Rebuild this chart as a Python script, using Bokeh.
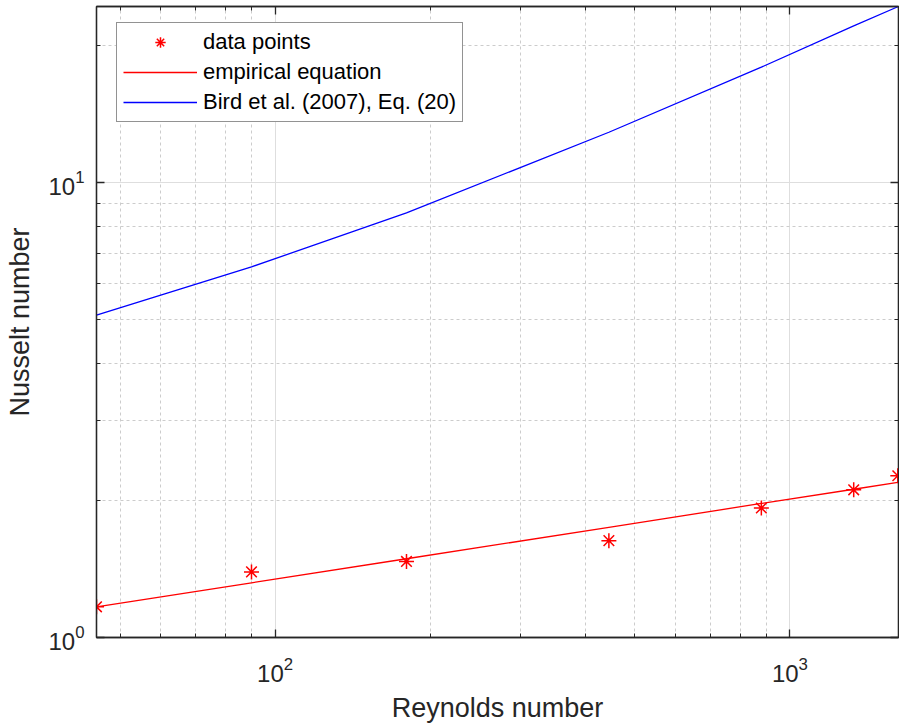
from bokeh.plotting import figure
from bokeh.models import (LogAxis, Legend, LegendItem, Range1d, FixedTicker,
                          LogTickFormatter, CustomJSTickFormatter)
from bokeh.embed import file_html
from bokeh.resources import INLINE

# ---- data ----
re_data = [45, 90, 180, 445, 880, 1330, 1620]
nu_data = [1.168, 1.394, 1.470, 1.633, 1.926, 2.112, 2.268]
nu_empirical = [1.168, 1.319, 1.490, 1.747, 1.971, 2.118, 2.192]
nu_bird = [5.115, 6.53, 8.58, 12.91, 17.95, 22.12, 24.37]

x_major = [100, 1000]
x_minor = [50, 60, 70, 80, 90, 200, 300, 400, 500, 600, 700, 800, 900]
y_major = [1, 10]
y_minor = [2, 3, 4, 5, 6, 7, 8, 9, 20]

x_label = "Reynolds number"
y_label = "Nusselt number"
legend_labels = ["data points", "empirical equation", "Bird et al. (2007), Eq. (20)"]

FONT = "Liberation Sans"
AX = "#262626"

p = figure(width=899, height=725, x_axis_type="log", y_axis_type="log",
           x_range=Range1d(45, 1625), y_range=Range1d(1, 24.4),
           output_backend="svg", toolbar_location=None,
           min_border_left=96, min_border_right=1, min_border_top=6, min_border_bottom=87,
           background_fill_color="white", border_fill_color="white")
p.outline_line_color = AX
p.outline_line_width = 1.3

xt = FixedTicker(ticks=x_major, minor_ticks=x_minor)
yt = FixedTicker(ticks=y_major, minor_ticks=y_minor)

# grids
p.xgrid[0].ticker = xt
p.ygrid[0].ticker = yt
for g in (p.xgrid[0], p.ygrid[0]):
    g.grid_line_color = "#dedede"
    g.grid_line_width = 1
    g.minor_grid_line_color = "#cccccc"
    g.minor_grid_line_dash = "3 3"
    g.minor_grid_line_width = 1

def style_axis(ax, ticker, labels=True):
    ax.ticker = ticker
    ax.axis_line_color = AX
    ax.axis_line_width = 1.3
    ax.major_tick_line_color = AX
    ax.minor_tick_line_color = AX
    ax.major_tick_line_width = 1.3
    ax.minor_tick_line_width = 1
    ax.major_tick_in = 8
    ax.major_tick_out = 0
    ax.minor_tick_in = 4
    ax.minor_tick_out = 0
    if labels:
        ax.formatter = LogTickFormatter()
        ax.major_label_text_font = FONT
        ax.major_label_text_font_size = "24px"
        ax.major_label_text_color = AX
        ax.axis_label_text_font = FONT
        ax.axis_label_text_font_size = "27px"
        ax.axis_label_text_font_style = "normal"
        ax.axis_label_text_color = AX
    else:
        ax.formatter = CustomJSTickFormatter(code="return '';")
        ax.major_label_text_font_size = "1px"
        ax.major_label_standoff = 0
        ax.axis_label_standoff = 0

style_axis(p.xaxis[0], xt)
style_axis(p.yaxis[0], yt)
p.xaxis[0].axis_label = x_label
p.yaxis[0].axis_label = y_label
p.xaxis[0].major_label_standoff = 19
p.xaxis[0].axis_label_standoff = 8
p.yaxis[0].major_label_standoff = 12
p.yaxis[0].axis_label_standoff = 10

top = LogAxis()
right = LogAxis()
style_axis(top, xt, labels=False)
style_axis(right, yt, labels=False)
p.add_layout(top, "above")
p.add_layout(right, "right")

# glyphs
r_emp = p.line(re_data, nu_empirical, line_color="#ff0000", line_width=1.3)
r_bird = p.line(re_data, nu_bird, line_color="#0000ff", line_width=1.3)
r_pts = p.scatter(re_data, nu_data, marker="asterisk", size=15,
                  line_color="#ff0000", line_width=1.5)

legend = Legend(items=[LegendItem(label=legend_labels[0], renderers=[r_pts]),
                       LegendItem(label=legend_labels[1], renderers=[r_emp]),
                       LegendItem(label=legend_labels[2], renderers=[r_bird])],
                location=(20, 515))
legend.label_text_font = FONT
legend.label_text_font_size = "22px"
legend.label_text_color = "#000000"
legend.glyph_width = 74
legend.glyph_height = 26
legend.label_height = 26
legend.label_standoff = 6
legend.spacing = 4
legend.padding = 6
legend.margin = 0
legend.border_line_color = AX
legend.border_line_width = 1.2
legend.background_fill_color = "white"
legend.background_fill_alpha = 1
p.add_layout(legend)

open("out.html", "w").write(file_html(p, INLINE))
